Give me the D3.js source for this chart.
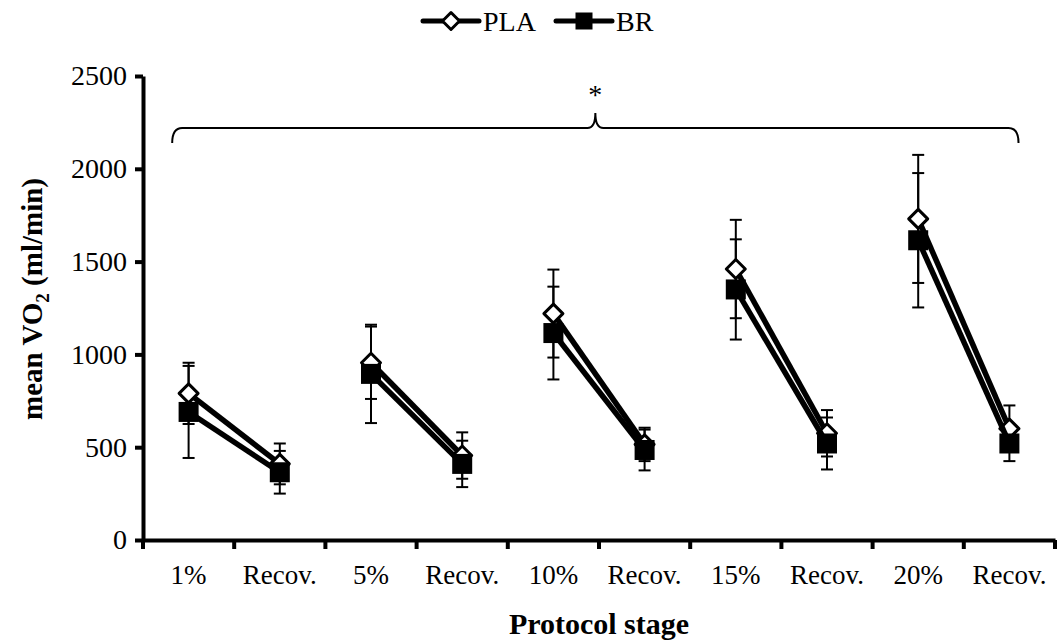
<!DOCTYPE html>
<html>
<head>
    <title>mean VO2 by protocol stage</title>
    <script src="https://cdnjs.cloudflare.com/ajax/libs/d3/7.8.5/d3.min.js"></script>
    <style>
    body{ margin: 0; background: #fff; }
    svg{ display: block; font-family: "Liberation Serif", "Times New Roman", serif; }
    </style>
</head>
<body>
    <svg width="1057" height="643"></svg>
    <script>
        // values
        var stages = ["1%", "Recov.", "5%", "Recov.", "10%", "Recov.", "15%", "Recov.", "20%", "Recov."];
        var plaMean = [790, 410, 955, 455, 1220, 515, 1460, 575, 1730, 600];
        var plaSd   = [165, 110, 195, 125, 237, 90, 265, 125, 345, 125];
        var brMean  = [690, 365, 895, 410, 1115, 485, 1350, 520, 1615, 520];
        var brSd    = [248, 115, 265, 125, 250, 110, 270, 140, 362, 95];
        var yTicks  = [0, 500, 1000, 1500, 2000, 2500];

        var svg = d3.select("svg");
        var plotL = 143, plotR = 1055, plotT = 76, plotB = 540;

        var x = d3.scaleBand()
            .domain(d3.range(stages.length))
            .range([plotL, plotR]);
        var y = d3.scaleLinear()
            .domain([0, 2500])
            .range([plotB, plotT]);
        var cx = function(i){ return x(i) + x.bandwidth() / 2; };

        // y axis
        var yAxis = svg.append("g")
            .attr("transform", "translate(" + plotL + ",0)")
            .call(d3.axisLeft(y).tickValues(yTicks).tickFormat(d3.format("d")).tickSize(8).tickPadding(8).tickSizeOuter(0));
        yAxis.select(".domain").attr("stroke", "#000").attr("stroke-width", 4);
        yAxis.selectAll(".tick line").attr("stroke", "#000").attr("stroke-width", 4);
        yAxis.selectAll(".tick text").attr("font-size", 28).attr("font-family", "Liberation Serif").attr("fill", "#000");

        // x axis, ticks between the categories
        var xAxis = svg.append("g")
            .attr("transform", "translate(0," + plotB + ")")
            .call(d3.axisBottom(x).tickSize(0).tickPadding(0).tickSizeOuter(0).tickFormat(function(i){ return stages[i]; }));
        xAxis.select(".domain").attr("stroke", "#000").attr("stroke-width", 4);
        xAxis.selectAll(".tick text")
            .attr("font-size", 27).attr("font-family", "Liberation Serif").attr("fill", "#000")
            .attr("dy", 0).attr("y", 44);
        var bounds = d3.range(stages.length).map(function(i){ return x(i); }).concat([x(stages.length - 1) + x.bandwidth()]);
        xAxis.selectAll("line.bound")
            .data(bounds)
            .enter()
            .append("line")
            .attr("class", "bound")
            .attr("x1", function(d){ return d; })
            .attr("x2", function(d){ return d; })
            .attr("y1", 0)
            .attr("y2", 9)
            .attr("stroke", "#000")
            .attr("stroke-width", 4);

        // axis titles
        svg.append("text")
            .attr("x", (plotL + plotR) / 2)
            .attr("y", 634)
            .attr("text-anchor", "middle")
            .attr("font-size", 30)
            .attr("font-weight", "bold")
            .text("Protocol stage");

        var yt = svg.append("text")
            .attr("transform", "translate(42,299) rotate(-90)")
            .attr("text-anchor", "middle")
            .attr("font-size", 29)
            .attr("font-weight", "bold");
        yt.append("tspan").text("mean VO");
        yt.append("tspan").attr("font-size", 19).attr("dy", 7).text("2");
        yt.append("tspan").attr("dy", -7).text(" (ml/min)");

        // brace and asterisk over all stages
        var bx0 = x(0) + x.bandwidth() * 0.32, bx1 = x(9) + x.bandwidth() * 0.6;
        var bm = (bx0 + bx1) / 2, by = 128;
        svg.append("path")
            .attr("d", "M" + bx0 + "," + (by + 15) + " Q" + bx0 + "," + by + " " + (bx0 + 10) + "," + by +
                " L" + (bm - 8) + "," + by + " Q" + bm + "," + by + " " + bm + "," + (by - 15) +
                " Q" + bm + "," + by + " " + (bm + 8) + "," + by +
                " L" + (bx1 - 10) + "," + by + " Q" + bx1 + "," + by + " " + bx1 + "," + (by + 15))
            .attr("fill", "none")
            .attr("stroke", "#000")
            .attr("stroke-width", 2);
        svg.append("text")
            .attr("x", bm)
            .attr("y", 104)
            .attr("text-anchor", "middle")
            .attr("font-size", 28)
            .text("*");

        var series = [
            {name: "PLA", mean: plaMean, sd: plaSd, shape: "diamond"},
            {name: "BR", mean: brMean, sd: brSd, shape: "square"}
        ];

        // error bars
        series.forEach(function(s){
            var g = svg.append("g").attr("class", "err");
            s.mean.forEach(function(m, i){
                var xi = cx(i);
                g.append("line")
                    .attr("x1", xi).attr("x2", xi)
                    .attr("y1", y(m - s.sd[i])).attr("y2", y(m + s.sd[i]))
                    .attr("stroke", "#000").attr("stroke-width", 2);
                [m - s.sd[i], m + s.sd[i]].forEach(function(v){
                    g.append("line")
                        .attr("x1", xi - 6).attr("x2", xi + 6)
                        .attr("y1", y(v)).attr("y2", y(v))
                        .attr("stroke", "#000").attr("stroke-width", 2);
                });
            });
        });

        function marker(g, shape, px, py, size){
            if(shape === "diamond"){
                var h = size / 2;
                g.append("path")
                    .attr("d", "M" + px + "," + (py - h) + " L" + (px + h) + "," + py + " L" + px + "," + (py + h) + " L" + (px - h) + "," + py + " Z")
                    .attr("fill", "#fff").attr("stroke", "#000").attr("stroke-width", 3).attr("stroke-linejoin", "round");
            } else {
                g.append("rect")
                    .attr("x", px - size / 2).attr("y", py - size / 2)
                    .attr("width", size).attr("height", size)
                    .attr("fill", "#000");
            }
        }

        // lines (stage -> recovery) and markers
        var line = d3.line().x(function(d){ return cx(d.i); }).y(function(d){ return y(d.v); });
        series.forEach(function(s){
            var g = svg.append("g").attr("class", "series");
            for(var k = 0; k < s.mean.length; k += 2){
                g.append("path")
                    .datum([{i: k, v: s.mean[k]}, {i: k + 1, v: s.mean[k + 1]}])
                    .attr("d", line)
                    .attr("fill", "none")
                    .attr("stroke", "#000")
                    .attr("stroke-width", 5.5);
            }
            s.mean.forEach(function(m, i){
                marker(g, s.shape, cx(i), y(m), s.shape === "diamond" ? 19 : 20);
            });
        });

        // legend
        var leg = svg.append("g").attr("class", "legend");
        var items = [{s: series[0], x0: 423}, {s: series[1], x0: 556}];
        items.forEach(function(it){
            leg.append("line")
                .attr("x1", it.x0).attr("x2", it.x0 + 56)
                .attr("y1", 21).attr("y2", 21)
                .attr("stroke", "#000").attr("stroke-width", 5).attr("stroke-linecap", "round");
            marker(leg, it.s.shape, it.x0 + 28, 21, 17);
            leg.append("text")
                .attr("x", it.x0 + 60)
                .attr("y", 31)
                .attr("font-size", 28)
                .text(it.s.name);
        });
    </script>
</body>
</html>
